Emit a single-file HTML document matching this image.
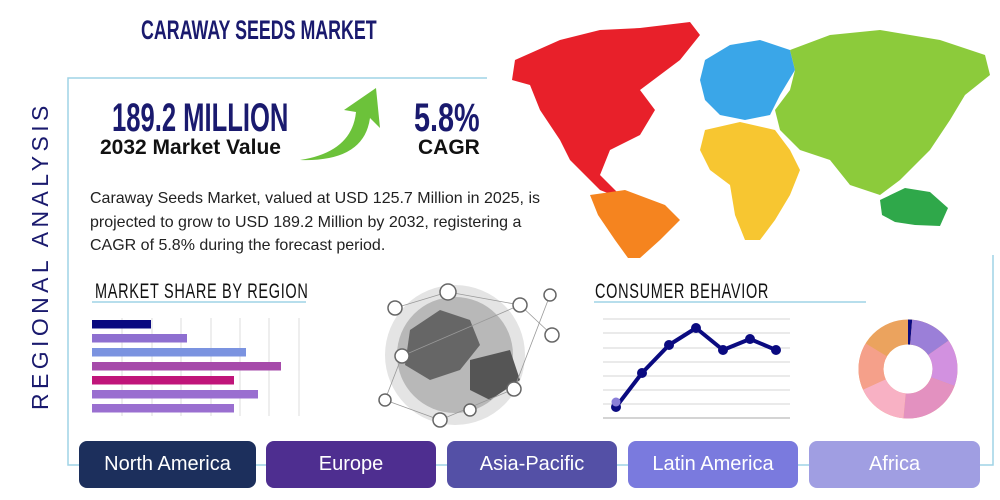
<!DOCTYPE html>
<html><head><meta charset="utf-8"><style>
body{margin:0;width:1000px;height:500px;background:#fff;position:relative;overflow:hidden;font-family:"Liberation Sans",sans-serif}
.a{position:absolute;white-space:nowrap}
.cond{transform-origin:0 0}
.btn{position:absolute;top:441px;height:47px;border-radius:8px;color:#fff;font-size:20px;display:flex;align-items:center;justify-content:center}
</style></head><body>
<svg class="a" style="left:0;top:0" width="1000" height="500">
 <polyline points="487,78 68,78 68,465 993,465 993,255" fill="none" stroke="#9fd3e6" stroke-width="1.5"/>
 <path d="M515,60 L560,40 L600,30 L640,28 L690,22 L700,35 L680,60 L660,75 L640,90 L655,110 L640,135 L610,150 L600,175 L615,190 L625,200 L600,190 L585,175 L570,160 L560,140 L540,110 L530,85 L512,80 Z" fill="#e8202a"/>
 <path d="M590,195 L625,190 L665,205 L680,220 L660,240 L640,258 L628,258 L615,240 L598,215 Z" fill="#f5841f"/>
 <path d="M705,60 L730,45 L760,40 L790,50 L795,70 L780,95 L770,115 L745,120 L720,115 L705,100 L700,80 Z" fill="#3aa6e8"/>
 <path d="M790,50 L830,35 L880,30 L940,40 L985,55 L990,75 L965,95 L950,120 L930,150 L900,180 L880,195 L850,185 L830,160 L800,150 L780,130 L775,110 L790,90 L795,70 Z" fill="#8ccb3b"/>
 <path d="M705,130 L740,122 L775,130 L790,150 L800,170 L790,195 L775,220 L760,240 L745,240 L735,215 L730,185 L710,170 L700,150 Z" fill="#f7c631"/>
 <path d="M880,200 L905,188 L930,192 L948,208 L940,226 L915,225 L895,222 L882,215 Z" fill="#2fa84a"/>
 <path d="M300,160 Q352,152 356,112 L344,110 L376,88 L380,128 L370,118 Q364,162 300,160 Z" fill="#6cc23a"/>
 <circle cx="455" cy="355" r="70" fill="#e4e4e4"/>
 <circle cx="455" cy="355" r="58" fill="#b8b8b8"/>
 <path d="M410,330 L440,310 L470,320 L480,345 L460,370 L430,380 L405,365 Z" fill="#666"/>
 <path d="M470,360 L510,350 L520,380 L490,400 L470,390 Z" fill="#555"/>
 <g stroke="#999" stroke-width="0.8"><line x1="395" y1="308" x2="448" y2="292"/><line x1="448" y1="292" x2="520" y2="305"/><line x1="520" y1="305" x2="552" y2="335"/><line x1="402" y1="356" x2="385" y2="400"/><line x1="440" y1="420" x2="514" y2="389"/><line x1="402" y1="356" x2="520" y2="305"/><line x1="385" y1="400" x2="440" y2="420"/><line x1="550" y1="295" x2="514" y2="389"/></g>
 <g fill="#fff" stroke="#666" stroke-width="1.5">
  <circle cx="395" cy="308" r="7"/><circle cx="448" cy="292" r="8"/><circle cx="520" cy="305" r="7"/><circle cx="550" cy="295" r="6"/><circle cx="552" cy="335" r="7"/><circle cx="385" cy="400" r="6"/><circle cx="440" cy="420" r="7"/><circle cx="514" cy="389" r="7"/><circle cx="470" cy="410" r="6"/><circle cx="402" cy="356" r="7"/>
 </g>
 <line x1="92" y1="302" x2="306" y2="302" stroke="#9fd3e6" stroke-width="1.5"/>
 <g stroke="#ddd" stroke-width="1"><line x1="122" y1="318" x2="122" y2="416"/><line x1="152" y1="318" x2="152" y2="416"/><line x1="181" y1="318" x2="181" y2="416"/><line x1="211" y1="318" x2="211" y2="416"/><line x1="240" y1="318" x2="240" y2="416"/><line x1="269" y1="318" x2="269" y2="416"/><line x1="299" y1="318" x2="299" y2="416"/></g>
 <rect x="92" y="320" width="59" height="8.5" fill="#0a0a80"/>
 <rect x="92" y="334" width="95" height="8.5" fill="#8e6fd0"/>
 <rect x="92" y="348" width="154" height="8.5" fill="#7b93e0"/>
 <rect x="92" y="362" width="189" height="8.5" fill="#a64aaa"/>
 <rect x="92" y="376" width="142" height="8.5" fill="#c0157a"/>
 <rect x="92" y="390" width="166" height="8.5" fill="#9a6fd0"/>
 <rect x="92" y="404" width="142" height="8.5" fill="#9a6fd0"/>
 <line x1="594" y1="302" x2="866" y2="302" stroke="#9fd3e6" stroke-width="1.5"/>
 <g stroke="#d5d5d5" stroke-width="1"><line x1="603" y1="319" x2="790" y2="319"/><line x1="603" y1="333" x2="790" y2="333"/><line x1="603" y1="348" x2="790" y2="348"/><line x1="603" y1="362" x2="790" y2="362"/><line x1="603" y1="376" x2="790" y2="376"/><line x1="603" y1="390" x2="790" y2="390"/><line x1="603" y1="404" x2="790" y2="404"/><line x1="603" y1="418" x2="790" y2="418" stroke="#aaa"/></g>
 <polyline points="616,407 642,373 669,345 696,328 723,350 750,339 776,350" fill="none" stroke="#0a0a80" stroke-width="4" stroke-linejoin="round"/>
 <g fill="#0a0a80"><circle cx="616" cy="407" r="5"/><circle cx="642" cy="373" r="5"/><circle cx="669" cy="345" r="5"/><circle cx="696" cy="328" r="5"/><circle cx="723" cy="350" r="5"/><circle cx="750" cy="339" r="5"/><circle cx="776" cy="350" r="5"/></g>
 <circle cx="616" cy="402" r="4.5" fill="#8a7fd8"/>
 <g transform="translate(908,369)" stroke-width="25" fill="none">
  <circle r="37" stroke="#eba35e"/>
 </g>
 <g transform="translate(908,369) rotate(-90)" fill="none" stroke-width="25">
  <circle r="37" stroke="#0a0a80" stroke-dasharray="3.2 300"/>
  <circle r="37" stroke="#9b7fd8" stroke-dasharray="0 3.2 32.3 300"/>
  <circle r="37" stroke="#d291e0" stroke-dasharray="0 35.5 35.5 300"/>
  <circle r="37" stroke="#e391c0" stroke-dasharray="0 71 48.5 300"/>
  <circle r="37" stroke="#f8b1c4" stroke-dasharray="0 119.5 38.7 300"/>
  <circle r="37" stroke="#f5a08a" stroke-dasharray="0 158.2 36 300"/>
 </g>
</svg>
<div class="a" style="left:27px;top:410px;transform-origin:0 0;transform:rotate(-90deg);color:#1a1a6e;font-size:23px;letter-spacing:4.4px;width:320px">REGIONAL ANALYSIS</div>
<div class="a cond" style="left:141px;top:15px;font-size:27px;font-weight:bold;color:#1a1a6e;transform:scaleX(.66)">CARAWAY SEEDS MARKET</div>
<div class="a cond" style="left:112px;top:96px;font-size:40px;font-weight:bold;color:#1a1a6e;transform:scaleX(.64)">189.2 MILLION</div>
<div class="a" style="left:100px;top:136px;font-size:21px;font-weight:bold;color:#111">2032 Market Value</div>
<div class="a cond" style="left:414px;top:96px;font-size:40px;font-weight:bold;color:#1a1a6e;transform:scaleX(.72)">5.8%</div>
<div class="a" style="left:418px;top:136px;font-size:21px;font-weight:bold;color:#111">CAGR</div>
<div class="a" style="left:90px;top:187px;font-size:16px;line-height:23.5px;color:#222">Caraway Seeds Market, valued at USD 125.7 Million in 2025, is<br>projected to grow to USD 189.2 Million by 2032, registering a<br>CAGR of 5.8% during the forecast period.</div>
<div class="a cond" style="left:95px;top:280px;font-size:21px;color:#111;letter-spacing:1px;transform:scaleX(.69)">MARKET SHARE BY REGION</div>
<div class="a cond" style="left:595px;top:280px;font-size:21px;color:#111;letter-spacing:1px;transform:scaleX(.69)">CONSUMER BEHAVIOR</div>
<div class="btn" style="left:79px;width:177px;background:#1c2f5c">North America</div>
<div class="btn" style="left:266px;width:170px;background:#4e2e90">Europe</div>
<div class="btn" style="left:447px;width:170px;background:#5450a6">Asia-Pacific</div>
<div class="btn" style="left:628px;width:170px;background:#7a7ade">Latin America</div>
<div class="btn" style="left:809px;width:171px;background:#a09ee2">Africa</div>
</body></html>
